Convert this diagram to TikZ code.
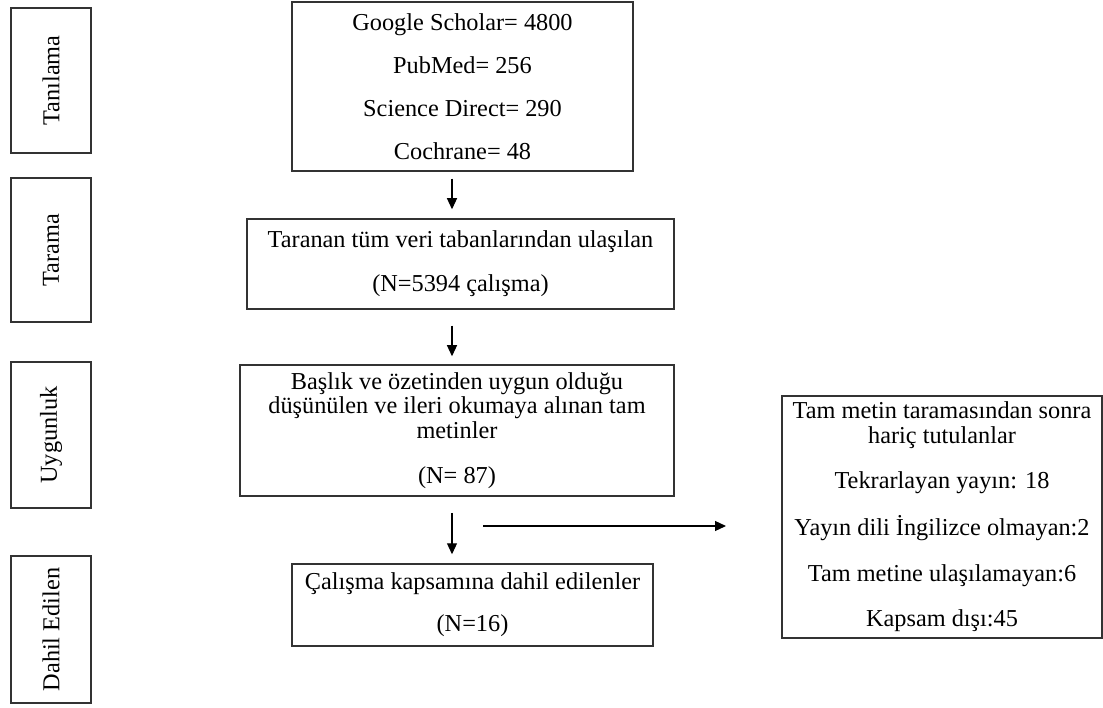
\documentclass[tikz,border=0pt]{standalone}
\usepackage{fontspec}
\setmainfont{Liberation Serif}
\usetikzlibrary{positioning,arrows.meta}

\tikzset{
  sidebox/.style={draw=black!80, line width=1.5pt, rotate=90, minimum height=80pt, inner sep=0pt},
  flowbox/.style={draw=black!80, line width=1.5pt, align=center, inner sep=0pt},
  arr/.style={-{Triangle[length=11pt,width=10pt]}, line width=1.2pt}
}

\begin{document}
\begin{tikzpicture}[x=1pt, y=-1pt, font=\fontsize{24.3}{24.5}\selectfont]
  \useasboundingbox (0,0) rectangle (1103,708);

  % Stage labels on the left
  \node[sidebox, minimum width=145pt] (lblA) at (51,80.5) {Tanılama};
  \node[sidebox, minimum width=144pt] (lblB) at (51,250) {Tarama};
  \node[sidebox, minimum width=146pt] (lblC) at (51,435) {Uygunluk};
  \node[sidebox, minimum width=147pt] (lblD) at (51,629.5) {Dahil Edilen};

  % Flow boxes
  \node[flowbox, minimum width=341pt, minimum height=169pt] (src) at (462.5,86.5)
    {Google Scholar= 4800\\[18.5pt] PubMed= 256\\[18.5pt] Science Direct= 290\\[18.5pt] Cochrane= 48};
  \node[flowbox, minimum width=427pt, minimum height=90pt] (scr) at (460.5,264)
    {Taranan tüm veri tabanlarından ulaşılan\\[19.5pt] (N=5394 çalışma)};
  \node[flowbox, minimum width=434pt, minimum height=131pt] (elig) at (457,430.5)
    {Başlık ve özetinden uygun olduğu\\ düşünülen ve ileri okumaya alınan tam\\ metinler\\[20.5pt] (N= 87)};
  \node[flowbox, minimum width=361pt, minimum height=82pt] (incl) at (472.5,605)
    {Çalışma kapsamına dahil edilenler\\[17.5pt] (N=16)};
  \node[flowbox, minimum width=320pt, minimum height=242pt] (excl) at (942,517)
    {Tam metin taramasından sonra\\ hariç tutulanlar\\[21pt] Tekrarlayan yayın: 18\\[21pt]
     Yayın dili İngilizce olmayan:2\\[21pt] Tam metine ulaşılamayan:6\\[21pt] Kapsam dışı:45};

  % Arrows
  \coordinate (ax) at (452,0);
  \draw[arr, shorten <=7pt, shorten >=9pt] (src.south -| ax) -- (scr.north -| ax);
  \draw[arr, shorten <=16pt, shorten >=8pt] (scr.south -| ax) -- (elig.north -| ax);
  \draw[arr, shorten <=16pt, shorten >=9pt] (elig.south -| ax) -- (incl.north -| ax);

  \coordinate (hs) at (483,526);
  \coordinate (he) at (726,526);
  \draw[arr] (hs) -- (he);
\end{tikzpicture}
\end{document}
